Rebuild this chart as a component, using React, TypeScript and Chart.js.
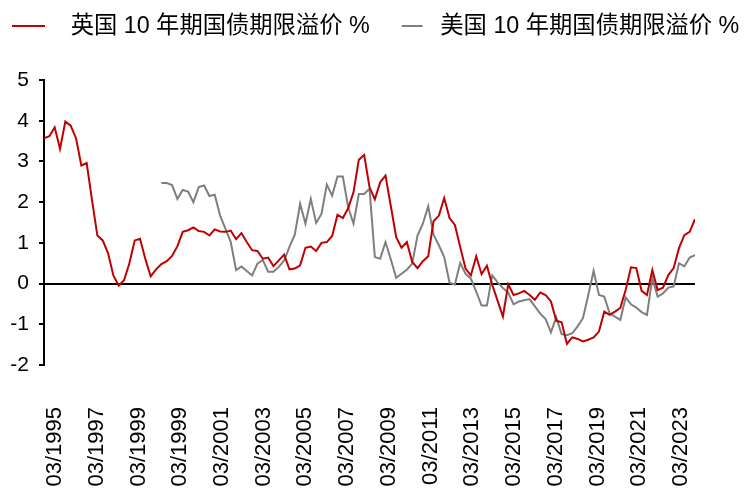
import React, { useEffect, useRef } from "react";
import { Chart, registerables } from "chart.js";

Chart.register(...registerables);

// Tick labels as printed on the reference x axis (every ~2 years)
const tickLabels = [
  "03/1995", "03/1997", "03/1999", "03/1999", "03/2001", "03/2003", "03/2005", "03/2007",
  "03/2009", "03/2011", "03/2013", "03/2015", "03/2017", "03/2019", "03/2021", "03/2023",
];

const seriesNames = ["英国 10 年期国债期限溢价 %", "美国 10 年期国债期限溢价 %"];

// UK 10y term premium (quarterly observations)
const ukValues = [
  3.57, 3.62, 3.84, 3.31, 3.98, 3.88, 3.57, 2.9, 2.96, 2.05,
  1.18, 1.06, 0.75, 0.2, -0.05, 0.08, 0.5, 1.06, 1.1, 0.6,
  0.18, 0.35, 0.48, 0.55, 0.68, 0.92, 1.27, 1.31, 1.38, 1.29,
  1.27, 1.18, 1.33, 1.28, 1.27, 1.3, 1.09, 1.24, 1.02, 0.82,
  0.8, 0.61, 0.64, 0.43, 0.57, 0.71, 0.35, 0.37, 0.45, 0.88,
  0.91, 0.8, 1.0, 1.02, 1.17, 1.69, 1.61, 1.85, 2.24, 3.04,
  3.16, 2.37, 2.07, 2.49, 2.65, 1.9, 1.14, 0.88, 1.02, 0.53,
  0.38, 0.55, 0.67, 1.53, 1.67, 2.1, 1.61, 1.44, 0.9, 0.37,
  0.2, 0.67, 0.23, 0.44, -0.03, -0.42, -0.81, -0.02, -0.28, -0.24,
  -0.18, -0.28, -0.4, -0.22, -0.28, -0.44, -0.91, -0.95, -1.48, -1.32,
  -1.36, -1.42, -1.38, -1.32, -1.18, -0.69, -0.77, -0.69, -0.6, -0.16,
  0.4, 0.38, -0.18, -0.28, 0.33, -0.16, -0.1, 0.21, 0.38, 0.87,
  1.19, 1.27, 1.58,
];

// US 10y term premium (starts later)
const usValues = [
  null, null, null, null, null, null, null, null, null, null,
  null, null, null, null, null, null, null, null, null, null,
  null, null, 2.47, 2.47, 2.42, 2.08, 2.3, 2.26, 2.0, 2.37,
  2.41, 2.15, 2.18, 1.67, 1.35, 1.02, 0.33, 0.42, 0.31, 0.2,
  0.49, 0.58, 0.29, 0.29, 0.41, 0.57, 0.9, 1.2, 1.96, 1.47,
  2.08, 1.49, 1.71, 2.43, 2.16, 2.63, 2.63, 1.88, 1.47, 2.2,
  2.2, 2.33, 0.65, 0.61, 1.02, 0.59, 0.14, 0.24, 0.34, 0.49,
  1.18, 1.47, 1.9, 1.2, 0.94, 0.65, 0.02, -0.02, 0.51, 0.24,
  0.12, -0.2, -0.54, -0.54, 0.2, 0.03, -0.11, -0.22, -0.51, -0.44,
  -0.41, -0.38, -0.56, -0.74, -0.87, -1.2, -0.83, -1.24, -1.27, -1.22,
  -1.05, -0.85, -0.28, 0.31, -0.28, -0.32, -0.73, -0.81, -0.89, -0.34,
  -0.51, -0.59, -0.7, -0.77, 0.13, -0.32, -0.24, -0.1, -0.07, 0.5,
  0.42, 0.64, 0.7,
];

const RED = "#C00000";
const GRAY = "#7F7F7F";
const FONT = "'Liberation Sans', Arial, 'Noto Sans CJK SC', sans-serif";

function legendMark(color: string, boxW: number, start: number, len: number) {
  const c = document.createElement("canvas");
  c.width = boxW;
  c.height = 2;
  const g = c.getContext("2d")!;
  g.fillStyle = color;
  g.fillRect(start, 0, len, 2);
  return c;
}

// Adds empty space between the legend row and the plot area
const legendGap = {
  id: "legendGap",
  beforeLayout(chart: any) {
    const lg = chart.legend;
    if (lg && !lg.__gapPatched) {
      const fit = lg.fit.bind(lg);
      lg.fit = function () {
        fit();
        this.height += 32;
      };
      lg.__gapPatched = true;
    }
  },
};

export default function App() {
  const ref = useRef<HTMLCanvasElement>(null);

  useEffect(() => {
    const canvas = ref.current!;
    const boxW = 54;
    const toPts = (arr: (number | null)[]) => arr.map((v, i) => ({ x: i, y: v }));
    const firstTick = 2.06;
    const tickStep = 7.82;

    const chart = new Chart(canvas, {
      type: "line",
      data: {
        datasets: [
          {
            label: seriesNames[0],
            data: toPts(ukValues) as any,
            borderColor: RED,
            backgroundColor: RED,
            borderWidth: 2,
            pointRadius: 0,
            pointStyle: legendMark(RED, boxW, 7, 33) as any,
            tension: 0,
          },
          {
            label: seriesNames[1],
            data: toPts(usValues) as any,
            borderColor: GRAY,
            backgroundColor: GRAY,
            borderWidth: 2,
            pointRadius: 0,
            pointStyle: legendMark(GRAY, boxW, 27, 21) as any,
            tension: 0,
          },
        ],
      },
      plugins: [legendGap],
      options: {
        responsive: false,
        animation: false,
        layout: { padding: { left: 0, right: 0, top: 9, bottom: 0 } },
        plugins: {
          tooltip: { enabled: false },
          legend: {
            position: "top",
            align: "start",
            labels: {
              usePointStyle: true,
              pointStyleWidth: boxW,
              color: "#000",
              padding: 5,
              font: { family: FONT, size: 23.3 },
            },
          },
        },
        scales: {
          x: {
            type: "linear",
            min: 0,
            max: ukValues.length - 1,
            grid: { display: false, drawTicks: false },
            border: { display: false },
            afterBuildTicks: (scale: any) => {
              scale.ticks = tickLabels.map((_, k) => ({ value: firstTick + k * tickStep }));
            },
            afterFit: (scale: any) => {
              scale.height = 135;
              scale.paddingRight = 51;
            },
            ticks: {
              autoSkip: false,
              minRotation: 90,
              maxRotation: 90,
              padding: 42,
              color: "#000",
              font: { family: FONT, size: 22 },
              callback: (_v: any, i: number) => tickLabels[i],
            },
          },
          y: {
            min: -2,
            max: 5,
            afterFit: (scale: any) => {
              scale.width = 44;
              scale.paddingTop = 80;
            },
            ticks: {
              stepSize: 1,
              padding: 10,
              color: "#000",
              font: { family: FONT, size: 21 },
            },
            border: { display: true, color: "#000", width: 2 },
            grid: {
              drawOnChartArea: true,
              color: (ctx: any) => (ctx.tick && ctx.tick.value === 0 ? "#000" : "rgba(0,0,0,0)"),
              lineWidth: 2,
              tickColor: "#000",
              tickLength: 5,
              tickWidth: 2,
            },
          },
        },
      },
    });
    return () => chart.destroy();
  }, []);

  return (
    <div style={{ position: "absolute", left: 0, top: 0, width: 746, height: 500, background: "#fff" }}>
      <canvas ref={ref} width={746} height={500} />
    </div>
  );
}
